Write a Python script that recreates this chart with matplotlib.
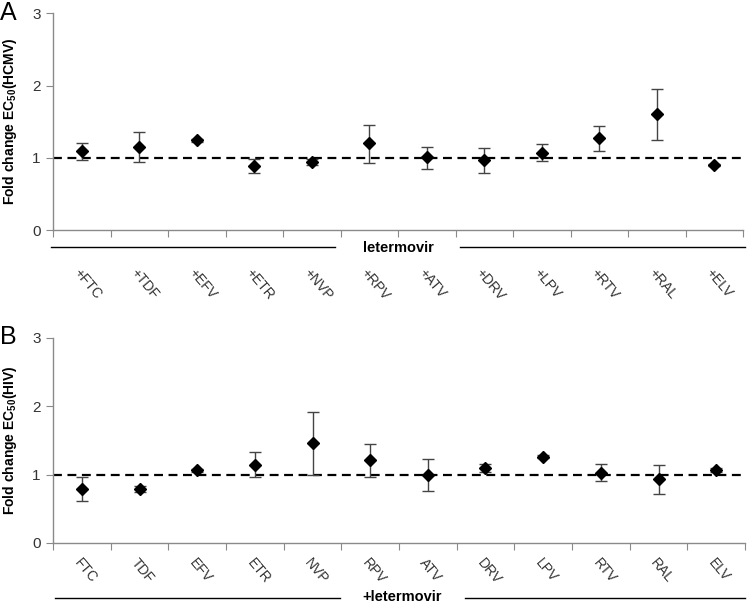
import matplotlib
matplotlib.use("Agg")
import matplotlib.pyplot as plt
import numpy as np

plt.rcParams['font.family'] = ['Liberation Sans', 'DejaVu Sans']
plt.rcParams['mathtext.fontset'] = 'custom'
plt.rcParams['mathtext.rm'] = 'Liberation Sans'
plt.rcParams['mathtext.bf'] = 'Liberation Sans:bold'
plt.rcParams['mathtext.it'] = 'Liberation Sans:italic'

drugs = ["FTC", "TDF", "EFV", "ETR", "NVP", "RPV", "ATV", "DRV", "LPV", "RTV", "RAL", "ELV"]

# Panel A: fold change EC50 (HCMV), letermovir + drug
hcmv_mean = [1.09, 1.15, 1.24, 0.88, 0.94, 1.20, 1.01, 0.97, 1.07, 1.27, 1.60, 0.90]
hcmv_low  = [0.97, 0.94, 1.22, 0.79, 0.90, 0.93, 0.84, 0.79, 0.95, 1.10, 1.25, 0.88]
hcmv_high = [1.21, 1.35, 1.26, 0.98, 0.98, 1.45, 1.15, 1.14, 1.19, 1.44, 1.95, 0.92]

# Panel B: fold change EC50 (HIV), drug + letermovir
hiv_mean = [0.79, 0.79, 1.06, 1.14, 1.46, 1.21, 1.00, 1.10, 1.26, 1.03, 0.93, 1.07]
hiv_low  = [0.62, 0.74, 1.04, 0.96, 0.99, 0.96, 0.76, 1.04, 1.24, 0.91, 0.71, 1.04]
hiv_high = [0.96, 0.84, 1.08, 1.33, 1.92, 1.44, 1.23, 1.15, 1.28, 1.15, 1.14, 1.10]

labels_a = ["+" + d for d in drugs]
labels_b = drugs

W, H = 750, 606
fig = plt.figure(figsize=(W / 100, H / 100), dpi=100)

def px_axes(left, top, right, bottom):
    return fig.add_axes([left / W, 1 - bottom / H, (right - left) / W, (bottom - top) / H])

spine_col = "#8a8a8a"
txt_col = "#333333"

def draw_panel(ax, mean, low, high, labels, ylabel, label_pad, width_px):
    x = np.arange(len(mean))
    mean = np.array(mean)
    yerr = [mean - np.array(low), np.array(high) - mean]
    ax.errorbar(x, mean, yerr=yerr, fmt='D', color='black', markersize=6.5,
                ecolor='#444444', elinewidth=1.0, capsize=4, capthick=1.0, zorder=3)
    ax.axhline(1.0, color='black', lw=1.6, dashes=(4, 2.5), zorder=2)
    ax.set_xlim(-0.5, len(mean) - 0.5)
    ax.set_ylim(0, 3)
    ax.set_yticks([0, 1, 2, 3])
    ax.set_xticks(np.arange(-0.5, len(mean)), labels=[])
    ax.set_xticks(x, labels=labels, minor=True)
    ax.tick_params(axis='x', which='major', direction='out', length=5, color=spine_col)
    ax.tick_params(axis='x', which='minor', length=0, pad=label_pad, labelsize=10,
                   labelcolor=txt_col)
    for t in ax.get_xticklabels(minor=True):
        t.set_rotation(-50)
        t.set_ha('left')
        t.set_va('top')
        t.set_rotation_mode('anchor')
    ax.tick_params(axis='y', direction='out', length=5, color=spine_col, labelsize=11,
                   labelcolor=txt_col, pad=4)
    for s in ['top', 'right']:
        ax.spines[s].set_visible(False)
    for s in ['left', 'bottom']:
        ax.spines[s].set_color(spine_col)
        ax.spines[s].set_linewidth(1.0)
    ax.set_ylabel(ylabel, fontsize=10, fontweight='bold')
    ax.yaxis.set_label_coords(-(53 - 19) / width_px, 0.5)

axA = px_axes(53, 13.3, 743, 230)
draw_panel(axA, hcmv_mean, hcmv_low, hcmv_high, labels_a,
           r"Fold change EC$_{\mathbf{50}}$(HCMV)", 26, 690)
axB = px_axes(53, 337.7, 745, 543)
draw_panel(axB, hiv_mean, hiv_low, hiv_high, labels_b,
           r"Fold change EC$_{\mathbf{50}}$(HIV)", 9, 692)

# bracket lines and letermovir labels
def hline(y, x0, x1):
    fig.add_artist(plt.Line2D([x0 / W, x1 / W], [1 - y / H, 1 - y / H],
                              color='black', lw=1.0))

hline(247, 51, 335)
hline(247, 460, 745)
fig.text(398 / W, 1 - 248 / H, "letermovir", fontsize=10.5, fontweight='bold',
         ha='center', va='center')

hline(598, 55, 340)
hline(598, 465, 745)
fig.text(402 / W, 1 - 597 / H, "+letermovir", fontsize=10.5, fontweight='bold',
         ha='center', va='center')

fig.text(0 / W, 1 - 1 / H, "A", fontsize=18, ha='left', va='top')
fig.text(0 / W, 1 - 325 / H, "B", fontsize=18, ha='left', va='top')

fig.savefig("out.png", dpi=100)
